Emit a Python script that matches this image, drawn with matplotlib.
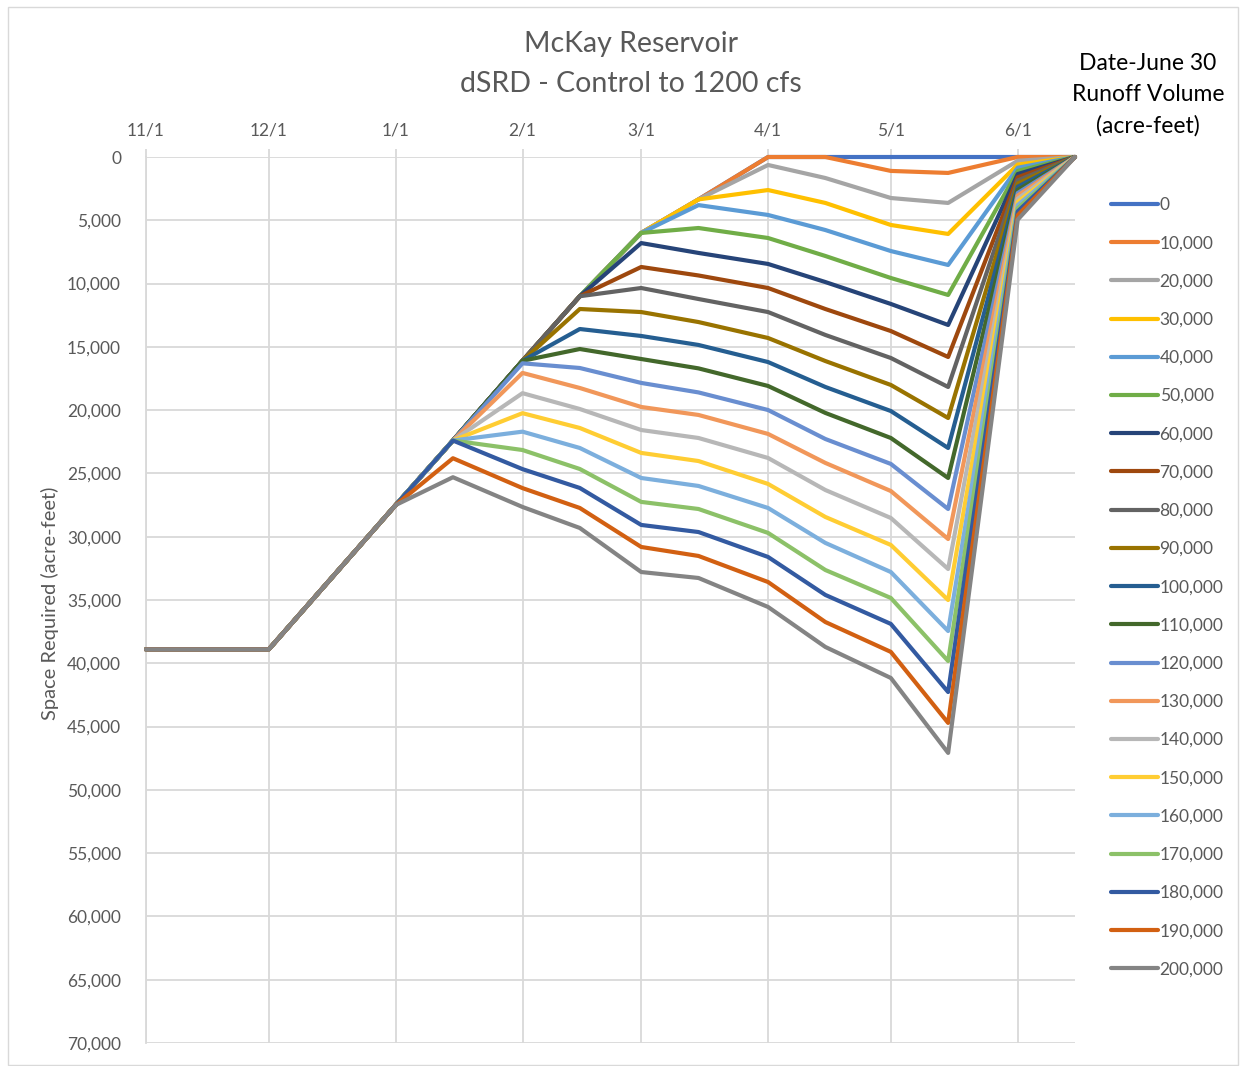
import datetime as dt
import numpy as np
import matplotlib
matplotlib.use("Agg")
import matplotlib.pyplot as plt
from matplotlib.ticker import FuncFormatter, MultipleLocator
from matplotlib.patches import Rectangle

plt.rcParams['font.family'] = ['Lato', 'DejaVu Sans']

# dates of the data points (Nov 1 .. Jun 15)
dates = [dt.date(2019, 11, 1), dt.date(2019, 12, 1), dt.date(2020, 1, 1),
         dt.date(2020, 1, 15), dt.date(2020, 2, 1), dt.date(2020, 2, 15),
         dt.date(2020, 3, 1), dt.date(2020, 3, 15), dt.date(2020, 4, 1),
         dt.date(2020, 4, 15), dt.date(2020, 5, 1), dt.date(2020, 5, 15),
         dt.date(2020, 6, 1), dt.date(2020, 6, 15)]

# runoff volume series (acre-feet)
volumes = [0, 10000, 20000, 30000, 40000, 50000, 60000, 70000, 80000, 90000,
           100000, 110000, 120000, 130000, 140000, 150000, 160000, 170000,
           180000, 190000, 200000]

# space required for each volume, one list per date
nov1 = [38900] * 21
dec1 = [38900] * 21
jan1 = [27500] * 21
jan15 = [22400] * 19 + [23800, 25300]
feb1 = [16100] * 12 + [16300, 17060, 18660, 20240, 21700, 23150, 24660, 26160, 27650]
feb15 = [11000] * 9 + [12010, 13590, 15170, 16670, 18250, 19910, 21410, 22990,
                       24650, 26150, 27730, 29310]
mar1 = [6000] * 6 + [6800, 8690, 10350, 12250, 14140, 15960, 17850, 19750, 21570,
                     23380, 25360, 27250, 29070, 30810, 32790]
mar15 = [3350] * 4 + [3800, 5610, 7580, 9360, 11220, 13040, 14850, 16700, 18600,
                      20380, 22200, 24020, 25990, 27810, 29630, 31520, 33260]
apr1 = [0, 0, 630, 2610, 4580, 6400, 8450, 10350, 12250, 14300, 16200, 18090,
        19990, 21880, 23780, 25830, 27730, 29700, 31600, 33580, 35550]
apr15 = [0, 0, 1660, 3630, 5770, 7820, 9880, 12010, 14060, 16120, 18170, 20220,
         22280, 24170, 26310, 28440, 30490, 32630, 34600, 36740, 38710]
may1 = [0, 1100, 3240, 5370, 7430, 9560, 11610, 13750, 15880, 18010, 20070, 22200,
        24250, 26390, 28520, 30650, 32790, 34840, 36890, 39100, 41160]
may15 = [0, 1260, 3630, 6080, 8530, 10900, 13270, 15800, 18170, 20620, 22990, 25360,
         27810, 30180, 32550, 35000, 37450, 39820, 42270, 44710, 47080]
jun1 = [0, 0, 300, 600, 850, 1100, 1350, 1600, 1850, 2100, 2350, 2600, 2850, 3050,
        3300, 3550, 3800, 4050, 4300, 4600, 4950]
jun15 = [0] * 21

colors = ['#4472C4', '#ED7D31', '#A5A5A5', '#FFC000', '#5B9BD5', '#70AD47',
          '#264478', '#9E480E', '#636363', '#997300', '#255E91', '#43682B',
          '#698ED0', '#F1975A', '#B7B7B7', '#FFCD33', '#7CAFDD', '#8CC168',
          '#335AA1', '#D26012', '#848484']

space = np.array([nov1, dec1, jan1, jan15, feb1, feb15, mar1, mar15,
                  apr1, apr15, may1, may15, jun1, jun15]).T

month_ticks = [dt.date(2019, 11, 1), dt.date(2019, 12, 1), dt.date(2020, 1, 1),
               dt.date(2020, 2, 1), dt.date(2020, 3, 1), dt.date(2020, 4, 1),
               dt.date(2020, 5, 1), dt.date(2020, 6, 1)]
tick_labels = ['11/1', '12/1', '1/1', '2/1', '3/1', '4/1', '5/1', '6/1']

fig = plt.figure(figsize=(12.4, 10.66), dpi=100)
ax = fig.add_axes([146 / 1240, 1 - 1043 / 1066, (1075 - 146) / 1240, (1043 - 157) / 1066])

grid_c = '#D9D9D9'
text_c = '#595959'

lines = []
for vol, vals, c in zip(volumes, space, colors):
    ln, = ax.plot(dates, vals, color=c, lw=3, solid_joinstyle='round',
                  solid_capstyle='round', label=f"{vol:,}", zorder=3, clip_on=False)
    lines.append(ln)

ax.set_xlim(dates[0], dates[-1])
ax.set_ylim(70000, 0)
ax.yaxis.set_major_locator(MultipleLocator(5000))
ax.yaxis.set_major_formatter(FuncFormatter(lambda v, p: f"{int(v):,}"))
ax.set_xticks(month_ticks)
ax.set_xticklabels(tick_labels)
ax.xaxis.tick_top()

ax.grid(True, color=grid_c, lw=1.3, zorder=0)
for s in ['top', 'right', 'bottom']:
    ax.spines[s].set_visible(False)
ax.spines['left'].set_color(grid_c)
ax.spines['left'].set_linewidth(1.3)
ax.tick_params(axis='x', colors=grid_c, length=6, width=1.3, pad=7,
               labelcolor=text_c, labelsize=12.5)
ax.tick_params(axis='y', length=0, pad=18, labelcolor=text_c, labelsize=12.5)

fig.text(50 / 1240, 1 - 603 / 1066, 'Space Required (acre-feet)', rotation=90,
         ha='center', va='center', fontsize=14.5, color=text_c)

fig.text(631 / 1240, 1 - 64 / 1066, 'McKay Reservoir\ndSRD - Control to 1200 cfs',
         ha='center', va='center', fontsize=20.5, color=text_c, linespacing=1.7)

fig.text(1148 / 1240, 1 - 95 / 1066, 'Date-June 30\nRunoff Volume\n(acre-feet)',
         ha='center', va='center', fontsize=16.5, color='black', linespacing=1.58)

leg = fig.legend(handles=lines, loc='upper left',
                 bbox_to_anchor=(1111 / 1240, 1 - 197 / 1066),
                 frameon=False, fontsize=12.5, labelcolor=text_c,
                 handlelength=2.7, handletextpad=0.1, labelspacing=1.28,
                 borderaxespad=0, borderpad=0)

fig.patches.append(Rectangle((8 / 1240, 1 / 1066), 1230 / 1240, 1058 / 1066,
                             transform=fig.transFigure, fill=False,
                             edgecolor=grid_c, lw=1))

fig.savefig('out.png', dpi=100)
